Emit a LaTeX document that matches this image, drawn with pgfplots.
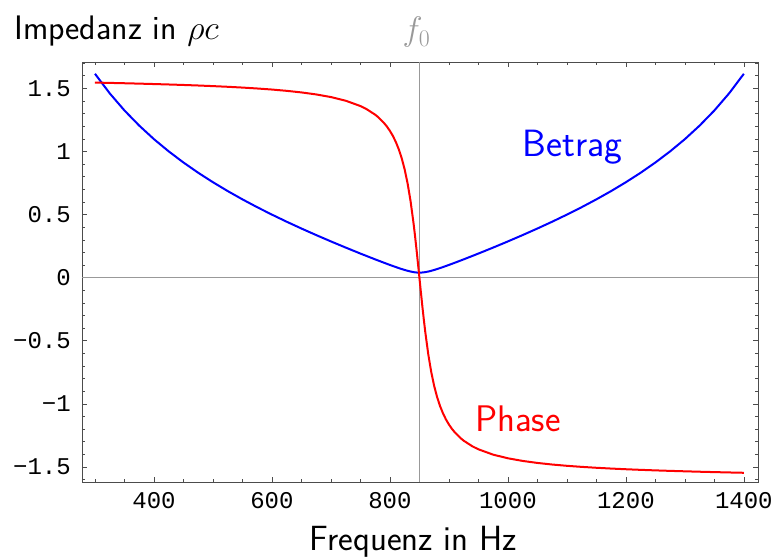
\documentclass[border=0pt]{standalone}
\usepackage{fix-cm}
\usepackage{fontspec}
\usepackage{pgfplots}
\usepackage{pgfplotstable}
\pgfplotsset{compat=1.18}
\newfontfamily\tickfont{Liberation Mono}
\definecolor{axgray}{gray}{0.6}
\definecolor{framegray}{gray}{0.3}

\pgfplotstableread{
f B P
300 1.6155 1.5460
325 1.4605 1.5434
350 1.3248 1.5406
375 1.2050 1.5376
400 1.0975 1.5343
425 1.0008 1.5308
450 0.9126 1.5270
475 0.8313 1.5227
500 0.7563 1.5179
525 0.6862 1.5125
550 0.6205 1.5063
575 0.5584 1.4991
600 0.4996 1.4907
625 0.4433 1.4805
650 0.3895 1.4679
675 0.3376 1.4520
700 0.2873 1.4311
725 0.2386 1.4023
750 0.1911 1.3599
760 0.1726 1.3368
775 0.1451 1.2915
780 0.1361 1.2724
790 0.1183 1.2255
795 0.1096 1.1971
800 0.1009 1.1630
805 0.0925 1.1234
810 0.0842 1.0753
815 0.0761 1.0176
820 0.0684 0.9462
825 0.0611 0.8575
830 0.0545 0.7462
835 0.0487 0.6062
840 0.0441 0.4328
842.5 0.0423 0.3336
845 0.0411 0.2270
847.5 0.0403 0.1150
850 0.0400 0
852.5 0.0403 -0.1150
855 0.0411 -0.2270
857.5 0.0423 -0.3336
860 0.0441 -0.4328
865 0.0487 -0.6062
870 0.0545 -0.7462
875 0.0611 -0.8575
880 0.0684 -0.9462
885 0.0761 -1.0176
890 0.0842 -1.0753
895 0.0925 -1.1234
900 0.1009 -1.1630
905 0.1096 -1.1971
910 0.1183 -1.2255
920 0.1361 -1.2724
925 0.1451 -1.2915
940 0.1726 -1.3368
950 0.1911 -1.3599
975 0.2386 -1.4023
1000 0.2873 -1.4311
1025 0.3376 -1.4520
1050 0.3895 -1.4679
1075 0.4433 -1.4805
1100 0.4996 -1.4907
1125 0.5584 -1.4991
1150 0.6205 -1.5063
1175 0.6862 -1.5125
1200 0.7563 -1.5179
1225 0.8313 -1.5227
1250 0.9126 -1.5270
1275 1.0008 -1.5308
1300 1.0975 -1.5343
1325 1.2050 -1.5376
1350 1.3248 -1.5406
1375 1.4605 -1.5434
1400 1.6155 -1.5460
}\imp

\begin{document}
\begin{tikzpicture}
\begin{axis}[
  scale only axis, width=676bp, height=420bp,
  xmin=278, xmax=1424, ymin=-1.619, ymax=1.709,
  xtick={400,600,800,1000,1200,1400},
  xticklabels={400,600,800,1000,1200,1400},
  minor xtick={300,350,450,500,550,650,700,750,850,900,950,1050,1100,1150,1250,1300,1350},
  ytick={-1.5,-1,-0.5,0,0.5,1,1.5},
  yticklabels={−1.5,−1,−0.5,0,0.5,1,1.5},
  minor ytick={-1.6,-1.4,-1.3,-1.2,-1.1,-0.9,-0.8,-0.7,-0.6,-0.4,-0.3,-0.2,-0.1,0.1,0.2,0.3,0.4,0.6,0.7,0.8,0.9,1.1,1.2,1.3,1.4,1.6,1.7},
  tick label style={font=\tickfont\fontsize{24bp}{24bp}\selectfont, inner sep=0pt},
  xticklabel style={anchor=north, yshift=-10bp},
  yticklabel style={anchor=east, xshift=-11bp},
  tick align=inside, major tick length=5bp, minor tick length=3bp,
  axis line style={framegray, line width=0.8bp},
  tick style={framegray, line width=0.6bp},
  clip mode=individual,
]
\addplot[axgray, line width=0.8bp, forget plot] coordinates {(278,0) (1424,0)};
\addplot[axgray, line width=0.8bp, forget plot] coordinates {(850,-1.619) (850,1.709)};
\addplot[blue, line width=2bp] table[x=f, y=B] {\imp};
\addplot[red, line width=2bp] table[x=f, y=P] {\imp};
\node[blue, anchor=base west, inner sep=0pt, font=\sffamily\fontsize{38bp}{38bp}\selectfont] at (axis cs:1025,0.964) {Betrag};
\node[red, anchor=base west, inner sep=0pt, font=\sffamily\fontsize{37bp}{37bp}\selectfont] at (axis cs:944,-1.220) {Phase};
\coordinate (f0top) at (axis cs:850,1.709);
\coordinate (ll) at (rel axis cs:0,0);
\coordinate (ur) at (rel axis cs:1,1);
\coordinate (xl) at (rel axis cs:0.49,0);
\end{axis}
\node[axgray, anchor=base, inner sep=0pt, font=\fontsize{34bp}{34bp}\selectfont] at ([xshift=-3bp, yshift=21bp]f0top) {$f_0$};
\node[anchor=base west, inner sep=0pt, font=\sffamily\fontsize{34bp}{34bp}\selectfont] at ([xshift=-68bp, yshift=22.7bp]ll |- ur) {Impedanz in $\rho c$};
\node[anchor=base, inner sep=0pt, font=\sffamily\fontsize{35bp}{35bp}\selectfont] at ([yshift=-68bp]xl) {Frequenz in Hz};
\path ([xshift=-82bp, yshift=-76bp]ll) rectangle ([xshift=15bp, yshift=62bp]ur);
\end{tikzpicture}
\end{document}
